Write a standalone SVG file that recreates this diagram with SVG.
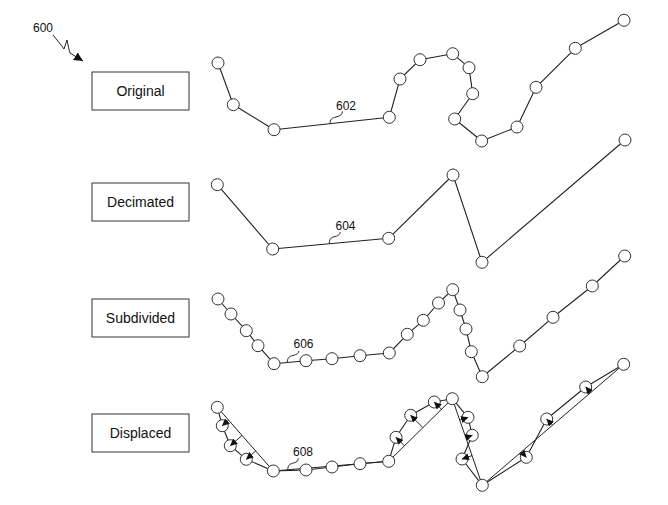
<svg xmlns="http://www.w3.org/2000/svg" width="668" height="505" viewBox="0 0 668 505">
<style>
.box{fill:#fff;stroke:#333;stroke-width:1}
.lbl{font-family:"Liberation Sans",Arial,sans-serif;font-size:14px;fill:#111;text-anchor:middle}
.ref{font-family:"Liberation Sans",Arial,sans-serif;font-size:12px;fill:#111;text-anchor:middle}
.ln{fill:none;stroke:#222;stroke-width:1.1;stroke-linejoin:round}
.thin{fill:none;stroke:#222;stroke-width:1}
.v{fill:#fff;stroke:#333;stroke-width:1}
.arr{fill:none;stroke:#222;stroke-width:1;marker-end:url(#ah)}
</style>
<defs>
<marker id="ah" markerUnits="userSpaceOnUse" markerWidth="8" markerHeight="7" refX="7" refY="3.5" orient="auto"><path d="M0,0 L7.5,3.5 L0,7 z" fill="#111"/></marker>
<marker id="ah2" markerUnits="userSpaceOnUse" markerWidth="10" markerHeight="9" refX="9" refY="4.5" orient="auto"><path d="M0,0 L9,4.5 L0,9 z" fill="#111"/></marker>
</defs>

<g id="label-600">
<text class="ref" x="43" y="32">600</text>
</g>

<g id="box-original"><rect class="box" x="92" y="72" width="97" height="38"/><text class="lbl" x="140.5" y="96">Original</text></g>
<g id="box-decimated"><rect class="box" x="92" y="183" width="97" height="38"/><text class="lbl" x="140.5" y="207">Decimated</text></g>
<g id="box-subdivided"><rect class="box" x="92" y="299" width="97" height="38"/><text class="lbl" x="140.5" y="323">Subdivided</text></g>
<g id="box-displaced"><rect class="box" x="92" y="414" width="97" height="38"/><text class="lbl" x="140.5" y="438">Displaced</text></g>

<g id="connectors">
<path class="thin" d="M53,35 C57,40 61,45 64,49 L67,40 C68,45 69,50 70,53 L83,61" marker-end="url(#ah2)"/>
<polyline class="ln" points="218,63 233.3,104.7 274,129.7 389.3,117.3 400,79 420,59.7 452.7,53.7 469,67.7 472.7,93.7 454.7,119 481.7,141 517,127 536,87.3 575.3,48.3 624,20.3"/>
<polyline class="ln" points="217.3,184.7 272.7,249 388.7,238.3 453,175 482,262.3 625,140"/>
<polyline class="ln" points="218,299 231,314 246.3,330.7 258,345.7 274,363.7 306,360.7 332,358.7 360,355.7 389.3,353 407.3,334.3 423.3,320.3 438.5,303 452.7,289.7 460,310 466,329 471.3,351.7 482.3,376.7 519.7,346 553,317.3 592.3,286 624.7,256"/>
<polyline class="thin" points="217.3,407.3 273.3,471 388.7,461.3 452.3,398.7 482.3,485.3 623.7,364.3"/>
<polyline class="ln" points="217.3,407.3 222.3,425.7 230.3,445.7 246.3,459.3 273.3,471 306,470 332,467 360,463.7 388.7,461.3 396,437.3 410.7,415.3 434.3,402 452.3,398.7 468,417.3 472.3,435.3 462,459 482.3,485.3 526.3,457.3 546.7,419 585.7,387 623.7,364.3"/>
<path class="thin" d="M330,124 C330,119 332,118 336,117 C340,116 342,115 342.5,111.5"/>
<path class="thin" d="M329.3,243.3 C329.5,238 331.5,237.5 335,236.5 C339,235.5 340,234 340.3,232"/>
<path class="thin" d="M287.3,362.7 C287.5,357 289.5,356.5 293,355.5 C297,354.5 298.5,353.5 298.8,351"/>
<path class="thin" d="M287.7,470 C288,464.5 290,464 293.5,463 C297,462 298,461 298.3,458.5"/>
</g>

<g id="vertices-original" class="v">
<circle cx="218" cy="63" r="6"/><circle cx="233.3" cy="104.7" r="6"/><circle cx="274" cy="129.7" r="6"/><circle cx="389.3" cy="117.3" r="6"/><circle cx="400" cy="79" r="6"/><circle cx="420" cy="59.7" r="6"/><circle cx="452.7" cy="53.7" r="6"/><circle cx="469" cy="67.7" r="6"/><circle cx="472.7" cy="93.7" r="6"/><circle cx="454.7" cy="119" r="6"/><circle cx="481.7" cy="141" r="6"/><circle cx="517" cy="127" r="6"/><circle cx="536" cy="87.3" r="6"/><circle cx="575.3" cy="48.3" r="6"/><circle cx="624" cy="20.3" r="6"/>
</g>
<g id="vertices-decimated" class="v">
<circle cx="217.3" cy="184.7" r="6"/><circle cx="272.7" cy="249" r="6"/><circle cx="388.7" cy="238.3" r="6"/><circle cx="453" cy="175" r="6"/><circle cx="482" cy="262.3" r="6"/><circle cx="625" cy="140" r="6"/>
</g>
<g id="vertices-subdivided" class="v">
<circle cx="218" cy="299" r="6"/><circle cx="231" cy="314" r="6"/><circle cx="246.3" cy="330.7" r="6"/><circle cx="258" cy="345.7" r="6"/><circle cx="274" cy="363.7" r="6"/><circle cx="306" cy="360.7" r="6"/><circle cx="332" cy="358.7" r="6"/><circle cx="360" cy="355.7" r="6"/><circle cx="389.3" cy="353" r="6"/><circle cx="407.3" cy="334.3" r="6"/><circle cx="423.3" cy="320.3" r="6"/><circle cx="438.5" cy="303" r="6"/><circle cx="452.7" cy="289.7" r="6"/><circle cx="460" cy="310" r="6"/><circle cx="466" cy="329" r="6"/><circle cx="471.3" cy="351.7" r="6"/><circle cx="482.3" cy="376.7" r="6"/><circle cx="519.7" cy="346" r="6"/><circle cx="553" cy="317.3" r="6"/><circle cx="592.3" cy="286" r="6"/><circle cx="624.7" cy="256" r="6"/>
</g>
<g id="vertices-displaced" class="v">
<circle cx="217.3" cy="407.3" r="6"/><circle cx="222.3" cy="425.7" r="6"/><circle cx="230.3" cy="445.7" r="6"/><circle cx="246.3" cy="459.3" r="6"/><circle cx="273.3" cy="471" r="6"/><circle cx="306" cy="470" r="6"/><circle cx="332" cy="467" r="6"/><circle cx="360" cy="463.7" r="6"/><circle cx="388.7" cy="461.3" r="6"/><circle cx="396" cy="437.3" r="6"/><circle cx="410.7" cy="415.3" r="6"/><circle cx="434.3" cy="402" r="6"/><circle cx="452.3" cy="398.7" r="6"/><circle cx="468" cy="417.3" r="6"/><circle cx="472.3" cy="435.3" r="6"/><circle cx="462" cy="459" r="6"/><circle cx="482.3" cy="485.3" r="6"/><circle cx="526.3" cy="457.3" r="6"/><circle cx="546.7" cy="419" r="6"/><circle cx="585.7" cy="387" r="6"/><circle cx="623.7" cy="364.3" r="6"/>
</g>

<g id="displacement-vectors">
<line class="arr" x1="228.6" y1="420.1" x2="222.3" y2="425.7"/>
<line class="arr" x1="242" y1="435.4" x2="230.3" y2="445.7"/>
<line class="arr" x1="255.7" y1="451" x2="246.3" y2="459.3"/>
<line class="arr" x1="404.4" y1="445.8" x2="396" y2="437.3"/>
<line class="arr" x1="422.9" y1="427.6" x2="410.7" y2="415.3"/>
<line class="arr" x1="441.5" y1="409.3" x2="434.3" y2="402"/>
<line class="arr" x1="459.7" y1="420.2" x2="468" y2="417.3"/>
<line class="arr" x1="465.7" y1="437.5" x2="472.3" y2="435.3"/>
<line class="arr" x1="472" y1="455.6" x2="462" y2="459"/>
<line class="arr" x1="521.6" y1="451.8" x2="526.3" y2="457.3"/>
<line class="arr" x1="552.2" y1="424.8" x2="546.7" y2="419"/>
<line class="arr" x1="590.6" y1="392.7" x2="585.7" y2="387"/>
</g>

<g id="ref-labels">
<text class="ref" x="346" y="109.5">602</text>
<text class="ref" x="345.5" y="229.5">604</text>
<text class="ref" x="303.5" y="348">606</text>
<text class="ref" x="303" y="456">608</text>
</g>
</svg>
